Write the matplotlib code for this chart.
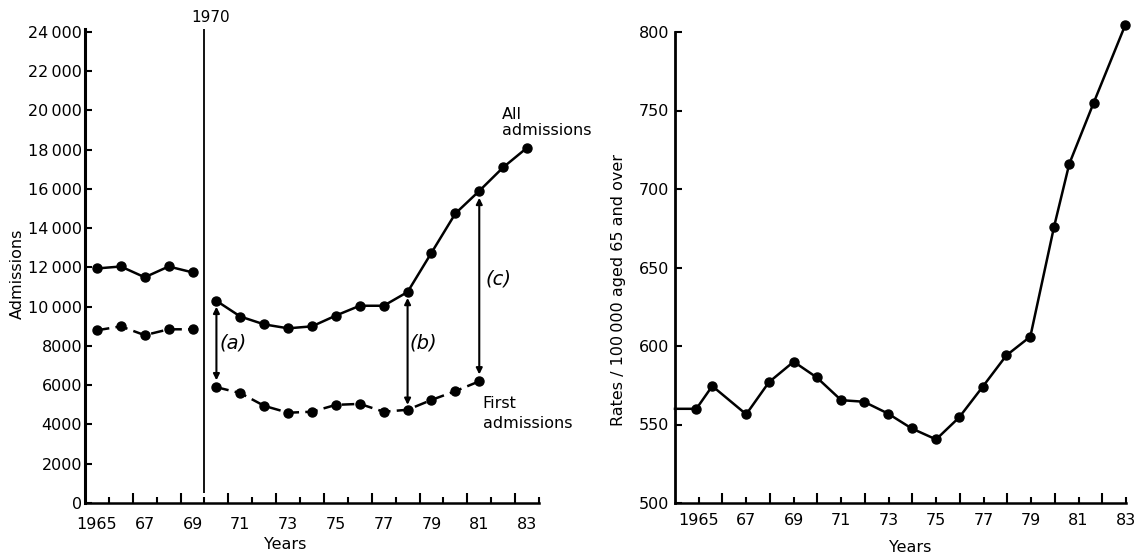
import numpy as np
import matplotlib.pyplot as plt

plt.rcParams['font.family'] = ['DejaVu Sans']

# left panel: admissions, series broken at 1970
years_pre = [1965, 1966, 1967, 1968, 1969]
years_post = [1970, 1971, 1972, 1973, 1974, 1975, 1976, 1977, 1978, 1979, 1980, 1981, 1982, 1983]
all_pre = [11950, 12050, 11500, 12050, 11750]
all_post = [10300, 9500, 9100, 8900, 9000, 9550, 10050, 10050, 10750, 12750, 14750, 15900, 17100, 18100]
first_pre = [8800, 9000, 8550, 8850, 8850]
first_years_post = [1970, 1971, 1972, 1973, 1974, 1975, 1976, 1977, 1978, 1979, 1980, 1981]
first_post = [5900, 5600, 4950, 4600, 4650, 5000, 5050, 4650, 4750, 5250, 5700, 6200]
break_year = 1969.5

# gaps marked with double arrows
gap_years = [1970, 1978, 1981]
gap_top = [10000, 10450, 15550]
gap_bottom = [6250, 5000, 6550]
gap_names = ['(a)', '(b)', '(c)']

# right panel: rates, x positions as drawn in the original
rate_x = [1964.0, 1964.9, 1965.57, 1967.0, 1967.96, 1969.0, 1969.97, 1971.0, 1971.96, 1972.97,
          1973.97, 1975.0, 1975.97, 1976.96, 1977.96, 1978.97, 1979.97, 1980.61, 1981.64, 1982.97]
rates = [560, 560, 574.5, 556.5, 577, 590, 580, 565.5, 564.5, 557,
         547.5, 540.5, 554.5, 574, 594, 606, 676, 716, 755, 804.5]

tick_years = [1965, 1967, 1969, 1971, 1973, 1975, 1977, 1979, 1981, 1983]
tick_labels = ['1965', '67', '69', '71', '73', '75', '77', '79', '81', '83']

W, H = 1137, 558
fig = plt.figure(figsize=(W / 100, H / 100), dpi=100)
fs = 11.5

# ---------- left ----------
ax1 = fig.add_axes([85 / W, 55 / H, 454 / W, 474 / H])
ax1.set_xlim(1964.5, 1983.5)
ax1.set_ylim(0, 24150)
for s in ['top', 'right']:
    ax1.spines[s].set_visible(False)
ax1.spines['left'].set_linewidth(2.2)
ax1.spines['bottom'].set_linewidth(1.8)

yt = list(range(0, 24001, 2000))
ax1.set_yticks(yt)
ax1.set_yticklabels([f"{v // 1000}\u2009000" if v >= 10000 else str(v) for v in yt], fontsize=fs)
ax1.tick_params(axis='y', direction='in', length=5, width=1.5, pad=2)

ax1.set_xticks(tick_years)
ax1.set_xticklabels(tick_labels, fontsize=fs)
ax1.set_xticks(np.arange(1965.5, 1984, 2), minor=True)
ax1.tick_params(axis='x', which='major', length=0, pad=10)
ax1.tick_params(axis='x', which='minor', direction='in', length=4, width=1.5)
sec = ax1.secondary_xaxis('bottom')
sec.set_xticks(np.arange(1966.5, 1983, 2))
sec.tick_params(direction='in', length=7, width=1.5, labelbottom=False)
for s in sec.spines.values():
    s.set_visible(False)

mk = dict(marker='o', markersize=6.5, color='black', clip_on=False)
ax1.plot(years_pre, all_pre, lw=1.8, **mk)
ax1.plot(years_post, all_post, lw=1.8, **mk)
ax1.plot(years_pre, first_pre, lw=1.8, dashes=[5, 2.5], **mk)
ax1.plot(first_years_post, first_post, lw=1.8, dashes=[5, 2.5], **mk)

ax1.vlines(break_year, 500, 24150, color='black', lw=1.3)
ax1.text(break_year + 0.27, 24750, '1970', ha='center', va='center', fontsize=fs - 0.5)

label_dx = [0.7, 0.64, 0.8]
label_y = [8150, 8150, 11400]
for x, t, b, name, dx, ly in zip(gap_years, gap_top, gap_bottom, gap_names, label_dx, label_y):
    ax1.annotate('', xy=(x, b), xytext=(x, t),
                 arrowprops=dict(arrowstyle='<|-|>', color='black', lw=1.5,
                                 mutation_scale=9, shrinkA=0, shrinkB=0))
    ax1.text(x + dx, ly, name, ha='center', va='center', fontsize=14, style='italic')

ax1.text(1981.95, 19400, 'All\nadmissions', ha='left', va='center', fontsize=fs, linespacing=1.1)
ax1.text(1981.15, 4560, 'First\nadmissions', ha='left', va='center', fontsize=fs, linespacing=1.35)

ax1.set_ylabel('Admissions', fontsize=fs)
ax1.yaxis.label.set_va('center')
ax1.yaxis.set_label_coords(-0.15, 0.483)
ax1.set_xlabel('Years', fontsize=fs)
ax1.xaxis.set_label_coords(0.44, -0.072)

# ---------- right ----------
ax2 = fig.add_axes([675 / W, 55 / H, 451 / W, 471 / H])
ax2.set_xlim(1964, 1983)
ax2.set_ylim(500, 800)
for s in ['top', 'right']:
    ax2.spines[s].set_visible(False)
ax2.spines['left'].set_linewidth(2.0)
ax2.spines['bottom'].set_linewidth(1.8)

ax2.set_yticks(range(500, 801, 50))
ax2.tick_params(axis='y', direction='in', length=5, width=1.5, pad=4, labelsize=fs)
ax2.set_xticks(tick_years)
ax2.set_xticklabels(tick_labels, fontsize=fs)
ax2.set_xticks(np.arange(1966, 1983, 2), minor=True)
ax2.tick_params(axis='x', which='major', direction='in', length=4, width=1.5, pad=7.5)
ax2.tick_params(axis='x', which='minor', direction='in', length=7, width=1.5)

ax2.plot(rate_x, rates, lw=1.8, marker='o', markersize=6.5, markevery=list(range(1, len(rates))),
         color='black', clip_on=False)

ax2.set_ylabel('Rates / 100\u2009000 aged 65 and over', fontsize=fs)
ax2.yaxis.label.set_va('center')
ax2.yaxis.set_label_coords(-0.125, 0.452)
ax2.set_xlabel('Years', fontsize=fs)
ax2.xaxis.set_label_coords(0.522, -0.079)

fig.savefig('out.png', dpi=100)
